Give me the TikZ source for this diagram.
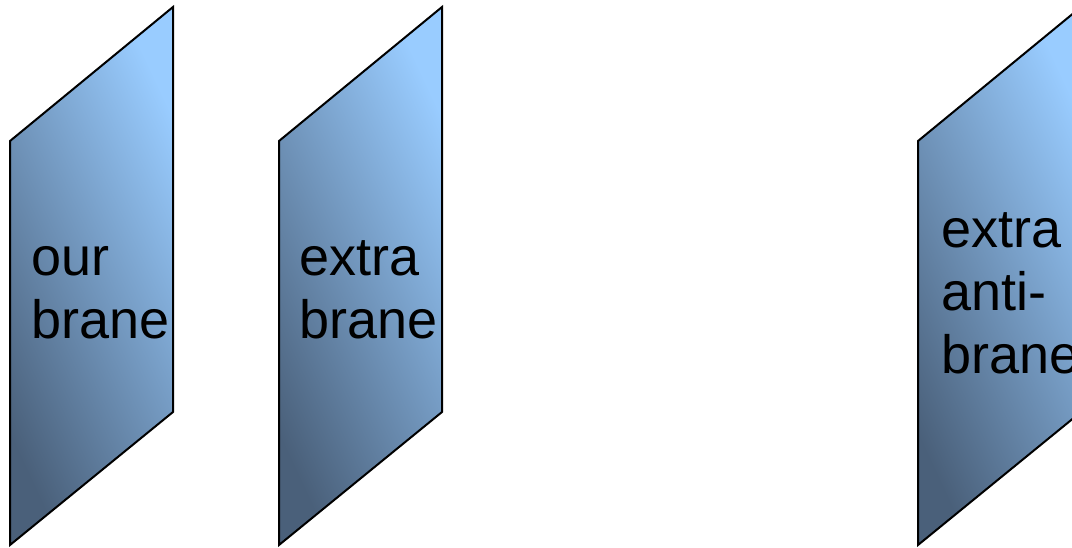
\documentclass[tikz,border=0pt]{standalone}
\usepackage{fontspec}
\setmainfont{Liberation Sans}
\definecolor{braneDark}{RGB}{74,96,122}
\definecolor{braneLight}{RGB}{153,204,255}
\begin{document}
\begin{tikzpicture}[
x=1pt, y=-1pt,
brane/.style={
draw=black,
line width=2pt,
top color=braneLight,
bottom color=braneDark,
shading angle=-65
},
every node/.style={
anchor=base west,
align=left,
inner sep=0pt,
font=\fontsize{54}{63}\selectfont
}
]
\useasboundingbox (0,0) rectangle (1072,547);

\draw[brane] (10,141) -- (173,7) -- (173,412) -- (10,545) -- cycle;
\draw[brane] (279,141) -- (442,7) -- (442,412) -- (279,545) -- cycle;
\draw[brane] (918,141) -- (1081,7) -- (1081,412) -- (918,545) -- cycle;

\node (O) at (31,338)
{our\\brane};

\node (E) at (299,338)
{extra\\brane};

\node (A) at (941,373)
{extra\\anti-\\brane};

\end{tikzpicture}
\end{document}
